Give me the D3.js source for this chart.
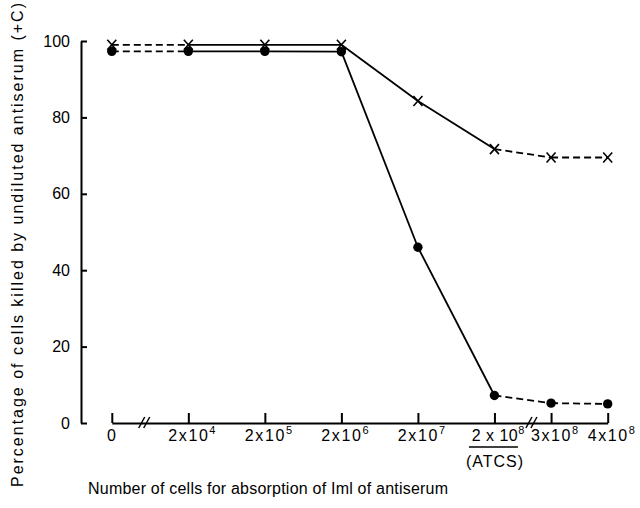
<!DOCTYPE html>
<html>
<head>
<meta charset="utf-8">
<script src="https://cdn.jsdelivr.net/npm/d3@7"></script>
<style>
  body { margin: 0; background: #fff; }
  svg { display: block; font-family: "Liberation Sans", Arial, sans-serif; }
</style>
</head>
<body>
<svg id="chart" width="640" height="508"></svg>
<script>
// --- Data ---
const categories = ["0", "2x10^4", "2x10^5", "2x10^6", "2x10^7", "2 x 10^8", "3x10^8", "4x10^8"];
const xSlots = [0, 1, 2, 3, 4, 5, 5.74, 6.48];      // axis is broken, so slots are not log scaled
const crosses = [99, 99, 99, 99, 84.3, 71.7, 69.5, 69.5];
const dots = [97.3, 97.3, 97.3, 97.2, 46, 7.2, 5.2, 5.0];
const dashedSegments = [0, 5, 6];                    // segment i joins point i and i+1
const yTicks = [0, 20, 40, 60, 80, 100];
const breakSlots = [0.43, 5.49];

const svg = d3.select("#chart");

// --- Scales ---
const x = d3.scaleLinear().domain([0, 6.48]).range([111.8, 607.7]);
const y = d3.scaleLinear().domain([0, 100]).range([423, 41]);

// --- Y axis ---
const yAxis = svg.append("g")
  .attr("transform", "translate(81,0)")
  .call(d3.axisLeft(y).tickValues(yTicks).tickSizeInner(-6).tickSizeOuter(0).tickPadding(11));
yAxis.select(".domain").attr("stroke", "#000").attr("stroke-width", 2);
yAxis.selectAll(".tick line").attr("stroke", "#000").attr("stroke-width", 2);
yAxis.selectAll(".tick text").attr("font-size", 16).attr("fill", "#000")
  .attr("font-family", "Liberation Sans, Arial, sans-serif");

// --- X axis ---
const xAxis = svg.append("g")
  .attr("transform", "translate(0,423)")
  .call(d3.axisBottom(x).tickValues(xSlots).tickSizeInner(-10).tickSizeOuter(0).tickFormat(""));
xAxis.select(".domain").attr("stroke", "#000").attr("stroke-width", 2);
xAxis.selectAll(".tick line").attr("stroke", "#000").attr("stroke-width", 2);

// tick labels: base centred on the tick, exponent hanging to the right
xAxis.selectAll(".tick").each(function(d, i) {
  const [base, exp] = categories[i].split("^");
  const g = d3.select(this);
  const t = g.append("text")
    .attr("y", 18).attr("text-anchor", "start")
    .attr("font-size", 16).attr("fill", "#000")
    .attr("font-family", "Liberation Sans, Arial, sans-serif");
  const b = t.append("tspan").attr("letter-spacing", i === 5 ? 0.5 : 1.6).text(base);
  if (exp) t.append("tspan").attr("dy", -7).attr("font-size", 11).text(exp);
  t.attr("x", -b.node().getComputedTextLength() / 2);
  if (i === 5) {
    g.append("line")
      .attr("x1", -26).attr("x2", 23).attr("y1", 24).attr("y2", 24)
      .attr("stroke", "#000").attr("stroke-width", 1.5);
    g.append("text")
      .attr("y", 44).attr("text-anchor", "middle")
      .attr("font-size", 16).attr("letter-spacing", 1).attr("fill", "#000")
      .attr("font-family", "Liberation Sans, Arial, sans-serif")
      .text("(ATCS)");
  }
});

// axis break marks
breakSlots.forEach(s => {
  const cx = x(s);
  [-3, 2].forEach(off => {
    xAxis.append("line")
      .attr("x1", cx + off - 3).attr("y1", 5)
      .attr("x2", cx + off + 3).attr("y2", -6)
      .attr("stroke", "#000").attr("stroke-width", 1.5);
  });
});

// --- Lines ---
function drawSeries(values) {
  const segs = d3.range(values.length - 1);
  svg.append("g").selectAll("line")
    .data(segs)
    .join("line")
    .attr("x1", i => x(xSlots[i])).attr("y1", i => y(values[i]))
    .attr("x2", i => x(xSlots[i + 1])).attr("y2", i => y(values[i + 1]))
    .attr("stroke", "#000").attr("stroke-width", 1.8)
    .attr("stroke-dasharray", i => dashedSegments.includes(i) ? "7,4" : null);
}
drawSeries(crosses);
drawSeries(dots);

// --- Markers ---
svg.append("g").selectAll("circle")
  .data(dots)
  .join("circle")
  .attr("cx", (d, i) => x(xSlots[i]))
  .attr("cy", d => y(d))
  .attr("r", 4.7)
  .attr("fill", "#000");

svg.append("g").selectAll("path")
  .data(crosses)
  .join("path")
  .attr("d", (d, i) => {
    const cx = x(xSlots[i]), cy = y(d);
    return `M${cx - 4.5},${cy - 5}L${cx + 4.5},${cy + 5}M${cx + 4.5},${cy - 5}L${cx - 4.5},${cy + 5}`;
  })
  .attr("stroke", "#000").attr("stroke-width", 1.6).attr("fill", "none");

// --- Titles ---
svg.append("text")
  .attr("x", 268).attr("y", 494)
  .attr("text-anchor", "middle")
  .attr("font-size", 16).attr("fill", "#000")
  .attr("textLength", 360).attr("lengthAdjust", "spacing")
  .text("Number of cells for absorption of Iml of antiserum");

svg.append("text")
  .attr("transform", "translate(23,245) rotate(-90)")
  .attr("text-anchor", "middle")
  .attr("font-size", 16).attr("fill", "#000")
  .attr("textLength", 484).attr("lengthAdjust", "spacing")
  .text("Percentage of cells killed by undiluted antiserum (+C)");
</script>
</body>
</html>
